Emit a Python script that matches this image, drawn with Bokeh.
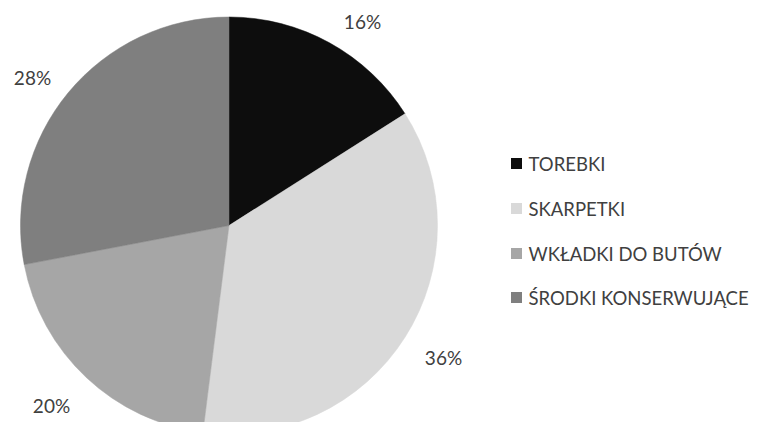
import math
from bokeh.plotting import figure
from bokeh.models import Range1d, ColumnDataSource
from bokeh.core.properties import value
from bokeh.embed import file_html
from bokeh.resources import INLINE

categories = ["TOREBKI", "SKARPETKI", "WKŁADKI DO BUTÓW", "ŚRODKI KONSERWUJĄCE"]
shares = [16, 36, 20, 28]
labels = ["16%", "36%", "20%", "28%"]
colors = ["#0d0d0d", "#d9d9d9", "#a6a6a6", "#7f7f7f"]

W, H = 757, 422
def Y(img_y):
    return H - img_y

p = figure(width=W, height=H, output_backend="svg", toolbar_location=None,
           x_range=Range1d(0, W), y_range=Range1d(0, H), min_border=0,
           outline_line_color=None)
p.axis.visible = False
p.grid.visible = False
p.background_fill_color = "white"
p.border_fill_color = "white"

cx, cy, r = 228.5, Y(225), 208.5
total = float(sum(shares))
starts, ends = [], []
cum = 0.0
for s in shares:
    starts.append(math.pi / 2 - 2 * math.pi * cum / total)
    cum += s
    ends.append(math.pi / 2 - 2 * math.pi * cum / total)

src = ColumnDataSource(dict(start=starts, end=ends, color=colors))
p.wedge(x=cx, y=cy, radius=r, start_angle="start", end_angle="end",
        direction="clock", fill_color="color", line_color="color", line_width=0.5,
        source=src)

# percentage labels
lab_x = [362, 443, 51, 32]
lab_y = [Y(21), Y(357), Y(405), Y(77)]
p.text(x=lab_x, y=lab_y, text=labels, text_font=value("Lato"), text_font_size="19px",
       text_color="#404040", text_align="center", text_baseline="middle")

# legend
leg_y = [Y(163), Y(208), Y(253), Y(297)]
p.rect(x=[516] * 4, y=leg_y, width=11, height=11, width_units="screen",
       height_units="screen", fill_color=colors, line_color=None)
p.text(x=[528] * 4, y=leg_y, text=categories, text_font=value("Lato"),
       text_font_size="18.5px", text_color="#404040", text_align="left",
       text_baseline="middle")

open("out.html", "w").write(file_html(p, INLINE))
